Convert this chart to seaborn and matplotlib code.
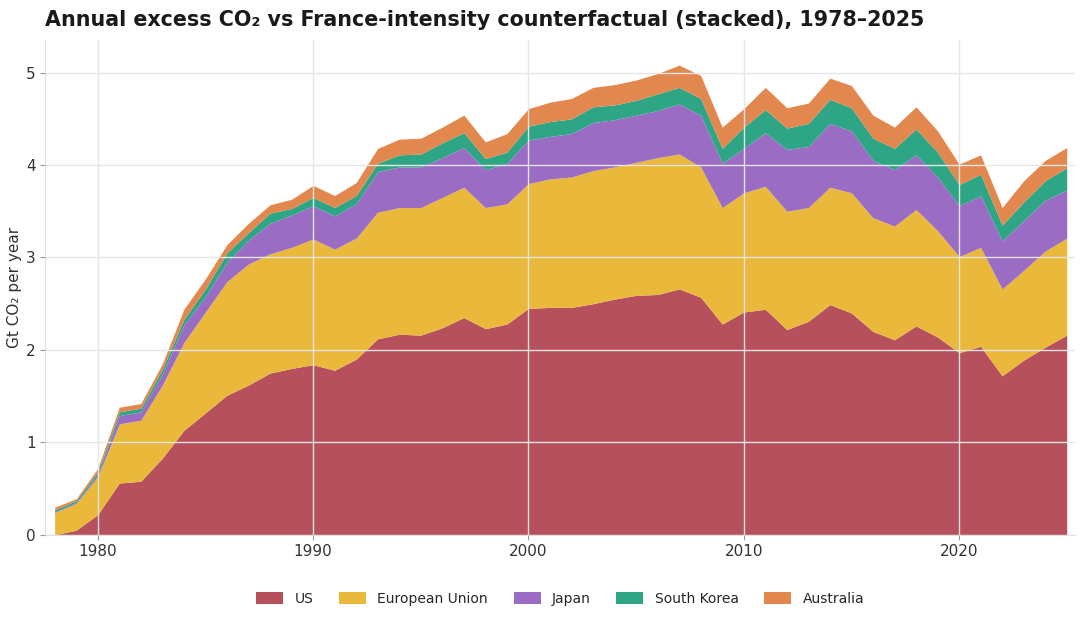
import numpy as np
import pandas as pd
import matplotlib
matplotlib.use("Agg")
import matplotlib.pyplot as plt
import seaborn as sns

# excess CO2 (Gt/yr) above a France-intensity counterfactual
years = list(range(1978, 2026))
us = [0.00, 0.05, 0.22, 0.56, 0.58, 0.83, 1.13, 1.32, 1.51, 1.62,
      1.75, 1.80, 1.84, 1.78, 1.90, 2.12, 2.17, 2.16, 2.24, 2.35,
      2.23, 2.28, 2.45, 2.46, 2.46, 2.50, 2.55, 2.59, 2.60, 2.66,
      2.57, 2.28, 2.41, 2.44, 2.22, 2.31, 2.49, 2.40, 2.20, 2.11,
      2.26, 2.14, 1.97, 2.04, 1.72, 1.89, 2.03, 2.16]
eu = [0.24, 0.29, 0.41, 0.64, 0.66, 0.79, 0.95, 1.09, 1.23, 1.31,
      1.29, 1.31, 1.36, 1.31, 1.31, 1.37, 1.37, 1.38, 1.41, 1.41,
      1.31, 1.30, 1.35, 1.39, 1.41, 1.44, 1.43, 1.44, 1.48, 1.46,
      1.41, 1.26, 1.29, 1.33, 1.28, 1.23, 1.27, 1.30, 1.23, 1.23,
      1.26, 1.15, 1.04, 1.07, 0.94, 0.97, 1.04, 1.05]
japan = [0.01, 0.01, 0.02, 0.09, 0.09, 0.12, 0.19, 0.17, 0.21, 0.26,
         0.33, 0.35, 0.36, 0.36, 0.37, 0.44, 0.44, 0.44, 0.43, 0.43,
         0.41, 0.44, 0.47, 0.46, 0.47, 0.52, 0.51, 0.51, 0.51, 0.54,
         0.56, 0.48, 0.48, 0.58, 0.67, 0.66, 0.69, 0.67, 0.62, 0.61,
         0.59, 0.58, 0.55, 0.56, 0.52, 0.54, 0.55, 0.52]
korea = [0.02, 0.02, 0.03, 0.04, 0.04, 0.05, 0.06, 0.08, 0.10, 0.08,
         0.11, 0.07, 0.09, 0.09, 0.09, 0.09, 0.13, 0.14, 0.16, 0.16,
         0.12, 0.12, 0.15, 0.16, 0.16, 0.17, 0.16, 0.16, 0.18, 0.18,
         0.18, 0.16, 0.23, 0.25, 0.23, 0.25, 0.26, 0.25, 0.24, 0.23,
         0.28, 0.27, 0.23, 0.23, 0.17, 0.20, 0.21, 0.24]
australia = [0.03, 0.02, 0.04, 0.05, 0.05, 0.06, 0.11, 0.11, 0.09, 0.10,
             0.09, 0.10, 0.13, 0.13, 0.14, 0.16, 0.17, 0.17, 0.17, 0.19,
             0.18, 0.20, 0.19, 0.21, 0.22, 0.21, 0.22, 0.22, 0.22, 0.24,
             0.25, 0.23, 0.20, 0.24, 0.22, 0.22, 0.23, 0.24, 0.25, 0.23,
             0.24, 0.23, 0.22, 0.21, 0.19, 0.23, 0.22, 0.22]

labels = ["US", "European Union", "Japan", "South Korea", "Australia"]
colors = ["#b5505c", "#eab83a", "#9a6cc4", "#2ea584", "#e2874e"]

df = pd.DataFrame({"year": years, "US": us, "European Union": eu, "Japan": japan,
                   "South Korea": korea, "Australia": australia})

sns.set_theme(style="whitegrid")
plt.rcParams["font.family"] = ["DejaVu Sans"]

fig, ax = plt.subplots(figsize=(10.84, 6.19), dpi=100)
fig.subplots_adjust(left=0.0415, right=0.992, top=0.935, bottom=0.136)

ax.stackplot(df["year"], [df[c] for c in labels], labels=labels, colors=colors,
             linewidth=0)

ax.set_xlim(1977.55, 2025.4)
ax.set_ylim(0, 5.35)
ax.set_xticks([1980, 1990, 2000, 2010, 2020])
ax.set_yticks([0, 1, 2, 3, 4, 5])
ax.set_axisbelow(False)
ax.grid(True, color="#e6e6e6", linewidth=1.0)

for s in ["top", "right"]:
    ax.spines[s].set_visible(False)
for s in ["left", "bottom"]:
    ax.spines[s].set_color("#e0e0e0")
    ax.spines[s].set_linewidth(0.8)

ax.tick_params(axis="both", labelsize=11, colors="#333333", length=3.5,
               width=0.8, color="#999999", left=True, bottom=True, pad=3)
ax.set_ylabel("Gt CO₂ per year", fontsize=11, color="#333333", labelpad=3)
ax.set_xlabel("")
ax.set_title("Annual excess CO₂ vs France-intensity counterfactual (stacked), 1978–2025",
             loc="left", fontsize=14.9, fontweight="bold", color="#1a1a1a", pad=10)

ax.legend(loc="upper center", bbox_to_anchor=(0.5, -0.09), ncol=5, frameon=False,
          fontsize=10, handlelength=1.95, handleheight=0.85, handletextpad=0.8,
          columnspacing=1.85)

fig.savefig("out.png", dpi=100)
